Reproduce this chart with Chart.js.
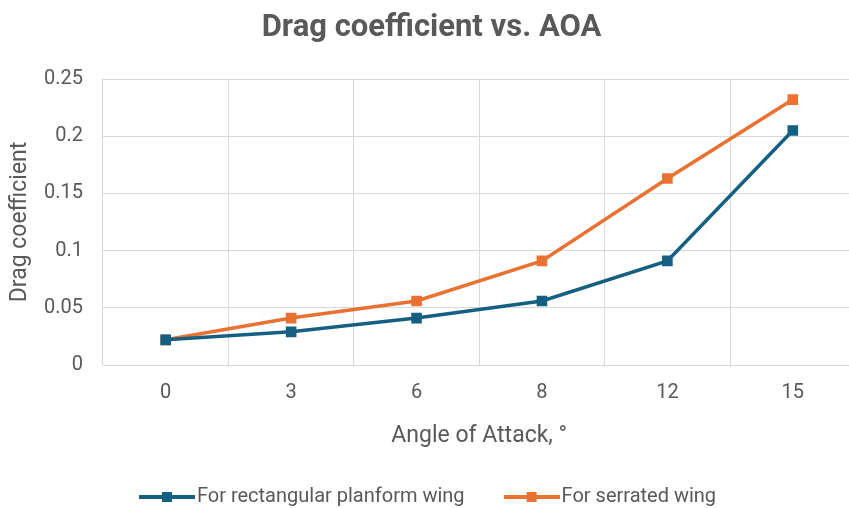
<!DOCTYPE html>
<html>
<head>
<meta charset="utf-8">
<script src="https://cdn.jsdelivr.net/npm/chart.js@4/dist/chart.umd.min.js"></script>
<style>
  html, body { margin: 0; padding: 0; background: #ffffff; overflow: hidden; }
  #wrap { width: 863px; height: 508px; }
</style>
</head>
<body>
<div id="wrap"><canvas id="chart" width="863" height="508"></canvas></div>
<script>
// Angle of attack (degrees) used as categories
const angles = ['0', '3', '6', '8', '12', '15'];
// Drag coefficient for each wing shape
const rectangularWing = [0.022, 0.029, 0.041, 0.056, 0.091, 0.205];
const serratedWing = [0.022, 0.041, 0.056, 0.091, 0.163, 0.232];
// Y axis ticks
const yTicks = [0, 0.05, 0.1, 0.15, 0.2, 0.25];

const BLUE = '#156082';
const ORANGE = '#E97132';
const TEXT = '#595959';
const GRID = '#d9d9d9';
const FONT = 'Roboto, "Open Sans", sans-serif';

// Legend marker: a short line with a square in the middle
function legendMarker(color) {
  const c = document.createElement('canvas');
  c.width = 56; c.height = 12;
  const g = c.getContext('2d');
  g.strokeStyle = color;
  g.lineWidth = 4;
  g.beginPath(); g.moveTo(0, 6); g.lineTo(56, 6); g.stroke();
  g.fillStyle = color;
  g.fillRect(23, 1, 10, 10);
  return c;
}

const markers = [legendMarker(BLUE), legendMarker(ORANGE)];

new Chart(document.getElementById('chart'), {
  type: 'line',
  data: {
    labels: angles,
    datasets: [
      {
        label: 'For rectangular planform wing',
        data: rectangularWing,
        borderColor: BLUE,
        backgroundColor: BLUE,
        borderWidth: 3.5,
        pointStyle: 'rect',
        pointRadius: 7.5,
        pointBorderWidth: 0,
        tension: 0
      },
      {
        label: 'For serrated wing',
        data: serratedWing,
        borderColor: ORANGE,
        backgroundColor: ORANGE,
        borderWidth: 3.5,
        pointStyle: 'rect',
        pointRadius: 7.5,
        pointBorderWidth: 0,
        tension: 0
      }
    ]
  },
  options: {
    responsive: false,
    animation: false,
    layout: { padding: { top: 0, left: 0, right: 0, bottom: -9 } },
    plugins: {
      title: {
        display: true,
        text: 'Drag coefficient vs. AOA',
        color: TEXT,
        font: { family: FONT, size: 31, weight: 'bold' },
        padding: { top: 10, bottom: 31.8 }
      },
      legend: {
        position: 'bottom',
        labels: {
          color: TEXT,
          font: { family: FONT, size: 20 },
          usePointStyle: true,
          pointStyleWidth: 40,
          padding: 47,
          generateLabels(chart) {
            return chart.data.datasets.map((ds, i) => ({
              text: ds.label,
              fontColor: TEXT,
              pointStyle: markers[i],
              datasetIndex: i,
              hidden: false,
              lineWidth: 0
            }));
          }
        }
      },
      tooltip: { enabled: false }
    },
    scales: {
      x: {
        offset: true,
        afterFit(scale) { scale.height = 75; },
        grid: { color: GRID, offset: true, drawTicks: false, lineWidth: 1 },
        border: { color: GRID },
        ticks: { color: TEXT, font: { family: FONT, size: 20 }, padding: 16 },
        title: {
          display: true,
          text: 'Angle of Attack, °',
          color: TEXT,
          font: { family: FONT, size: 23 },
          padding: { top: 0, bottom: -9.8 }
        }
      },
      y: {
        min: 0,
        max: 0.25,
        afterBuildTicks(scale) {
          scale.ticks = yTicks.map(v => ({ value: v }));
        },
        afterFit(scale) { scale.width = 103; },
        grid: { color: GRID, drawTicks: false },
        border: { display: false },
        ticks: {
          color: TEXT,
          font: { family: FONT, size: 20 },
          padding: 20,
          callback: v => String(v)
        },
        title: {
          display: true,
          text: 'Drag coefficient',
          color: TEXT,
          font: { family: FONT, size: 23 },
          padding: { top: 6, bottom: 0 }
        }
      }
    }
  }
});
</script>
</body>
</html>
